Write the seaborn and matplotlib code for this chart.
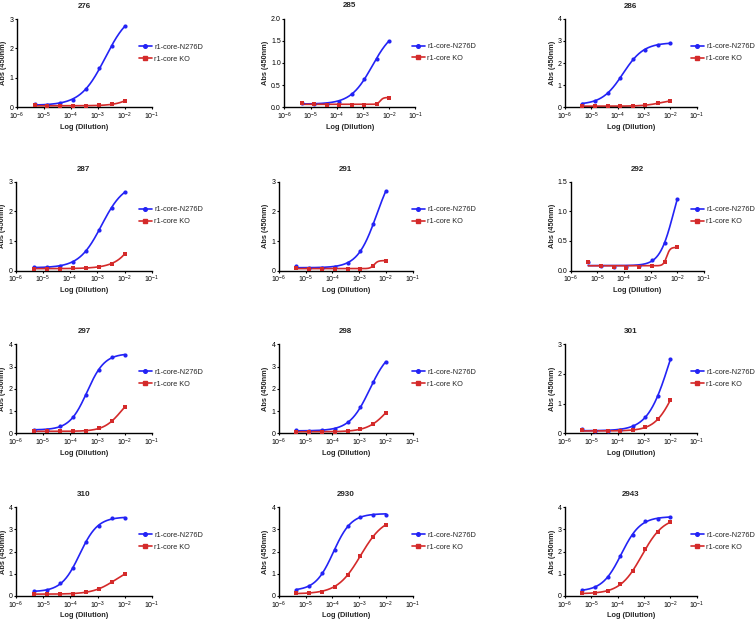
import numpy as np
import pandas as pd
import matplotlib
matplotlib.use("Agg")
import matplotlib.pyplot as plt
import seaborn as sns
from matplotlib.lines import Line2D
from matplotlib.ticker import FixedLocator, FuncFormatter, NullLocator

# ---------------- data ----------------
dilution = [4.57e-6, 1.37e-5, 4.12e-5, 1.23e-4, 3.70e-4, 1.11e-3, 3.33e-3, 1.0e-2]
series_names = ["r1-core-N276D", "r1-core KO"]
panel_titles = ["276", "285", "286", "287", "291", "292",
                "297", "298", "301", "310", "2930", "2943"]
ymax = [3, 2.0, 4, 3, 3, 1.5, 4, 4, 3, 4, 4, 4]
ystep = [1, 0.5, 1, 1, 1, 0.5, 1, 1, 1, 1, 1, 1]

n276d = {
    "276":  [0.11, 0.09, 0.14, 0.26, 0.63, 1.32, 2.07, 2.76],
    "285":  [0.10, 0.08, 0.08, 0.13, 0.30, 0.64, 1.09, 1.50],
    "286":  [0.17, 0.30, 0.63, 1.32, 2.17, 2.60, 2.81, 2.90],
    "287":  [0.12, 0.11, 0.17, 0.29, 0.65, 1.36, 2.10, 2.65],
    "291":  [0.16, 0.10, 0.08, 0.12, 0.27, 0.66, 1.56, 2.69],
    "292":  [0.14, 0.08, 0.06, 0.06, 0.08, 0.17, 0.47, 1.21],
    "297":  [0.16, 0.16, 0.31, 0.73, 1.71, 2.85, 3.43, 3.52],
    "298":  [0.13, 0.12, 0.13, 0.20, 0.49, 1.17, 2.29, 3.22],
    "301":  [0.16, 0.07, 0.07, 0.11, 0.24, 0.55, 1.26, 2.49],
    "310":  [0.21, 0.27, 0.57, 1.24, 2.43, 3.16, 3.51, 3.51],
    "2930": [0.27, 0.46, 1.03, 2.07, 3.16, 3.54, 3.66, 3.66],
    "2943": [0.27, 0.40, 0.85, 1.78, 2.73, 3.37, 3.48, 3.55],
}
ko = {
    "276":  [0.07, 0.05, 0.04, 0.05, 0.05, 0.07, 0.10, 0.22],
    "285":  [0.10, 0.07, 0.05, 0.06, 0.06, 0.06, 0.08, 0.22],
    "286":  [0.05, 0.06, 0.05, 0.05, 0.06, 0.10, 0.18, 0.29],
    "287":  [0.07, 0.06, 0.07, 0.08, 0.10, 0.13, 0.24, 0.56],
    "291":  [0.10, 0.07, 0.06, 0.06, 0.06, 0.07, 0.17, 0.34],
    "292":  [0.15, 0.08, 0.06, 0.05, 0.06, 0.08, 0.15, 0.39],
    "297":  [0.10, 0.09, 0.09, 0.09, 0.10, 0.23, 0.54, 1.18],
    "298":  [0.08, 0.07, 0.07, 0.07, 0.10, 0.19, 0.42, 0.93],
    "301":  [0.10, 0.08, 0.07, 0.08, 0.10, 0.21, 0.47, 1.12],
    "310":  [0.09, 0.09, 0.09, 0.10, 0.17, 0.33, 0.62, 0.99],
    "2930": [0.13, 0.14, 0.20, 0.42, 0.94, 1.81, 2.66, 3.21],
    "2943": [0.12, 0.14, 0.23, 0.52, 1.12, 2.11, 2.87, 3.33],
}

colors = {"r1-core-N276D": "#2323F5", "r1-core KO": "#D42A2A"}
markers = {"r1-core-N276D": "o", "r1-core KO": "s"}

# axes boxes in pixels: left, right, top, bottom
boxes = [
    (16.7, 151.7, 19.0, 107.3), (284.3, 415.3, 18.5, 107.3), (565.0, 696.7, 18.7, 107.3),
    (15.7, 151.7, 181.7, 270.7), (278.7, 412.7, 181.7, 270.7), (570.7, 704.0, 181.7, 270.5),
    (15.7, 152.0, 344.3, 433.3), (278.7, 412.7, 344.3, 433.3), (565.0, 696.7, 344.3, 433.3),
    (16.0, 152.0, 507.0, 596.0), (278.7, 412.7, 507.0, 596.0), (565.0, 696.7, 507.0, 596.0),
]
legend_x = [139.0, 412.0, 691.0]

W, H = 756, 620


def fit_4pl(x, y):
    """Least-squares 4-parameter logistic fit by grid search (log10 x)."""
    X = np.log10(np.asarray(x))
    Y = np.asarray(y, dtype=float)
    cs = np.linspace(-6.5, 0.5, 351)
    hs = np.linspace(0.3, 8.0, 155)
    C, Hh = np.meshgrid(cs, hs, indexing="ij")
    C = C.ravel()[:, None]
    Hh = Hh.ravel()[:, None]
    S = 1.0 / (1.0 + 10 ** ((C - X[None, :]) * Hh))
    A = 1 - S
    a11 = (A * A).sum(1); a12 = (A * S).sum(1); a22 = (S * S).sum(1)
    r1 = (A * Y).sum(1); r2 = (S * Y).sum(1)
    det = a11 * a22 - a12 ** 2
    det = np.where(np.abs(det) < 1e-12, 1e-12, det)
    b = (a22 * r1 - a12 * r2) / det
    t = (a11 * r2 - a12 * r1) / det
    pred = b[:, None] * A + t[:, None] * S
    sse = ((pred - Y[None, :]) ** 2).sum(1)
    k = np.argmin(sse)
    return b[k], t[k], C[k, 0], Hh[k, 0]


def curve(params, xs):
    b, t, c, h = params
    X = np.log10(xs)
    return b + (t - b) / (1 + 10 ** ((c - X) * h))


sns.set_style("ticks")
plt.rcParams["font.family"] = ["Liberation Sans", "DejaVu Sans"]
plt.rcParams["mathtext.fontset"] = "custom"
plt.rcParams["mathtext.rm"] = "Liberation Sans"
plt.rcParams["mathtext.it"] = "Liberation Sans:italic"
plt.rcParams["mathtext.bf"] = "Liberation Sans:bold"

fig = plt.figure(figsize=(W / 100, H / 100), dpi=100)

xdense = np.logspace(np.log10(dilution[0]), np.log10(dilution[-1]), 300)

for i, title in enumerate(panel_titles):
    l, r, t, b = boxes[i]
    ax = fig.add_axes([l / W, 1 - b / H, (r - l) / W, (b - t) / H])
    ax.set_xscale("log")
    ax.set_xlim(1e-6, 1e-1)
    ax.set_ylim(0, ymax[i])

    for name, data in zip(series_names, [n276d[title], ko[title]]):
        p = fit_4pl(dilution, data)
        dfc = pd.DataFrame({"x": xdense, "y": curve(p, xdense)})
        sns.lineplot(data=dfc, x="x", y="y", ax=ax, color=colors[name],
                     linewidth=1.2, legend=False, zorder=2)
        dfp = pd.DataFrame({"x": dilution, "y": data})
        sns.scatterplot(data=dfp, x="x", y="y", ax=ax, color=colors[name],
                        marker=markers[name], s=9, linewidth=0, legend=False,
                        zorder=3, clip_on=False)

    ax.xaxis.set_major_locator(FixedLocator([1e-6, 1e-5, 1e-4, 1e-3, 1e-2, 1e-1]))
    ax.xaxis.set_minor_locator(NullLocator())
    ax.xaxis.set_major_formatter(
        FuncFormatter(lambda v, pos: r"$\mathregular{10^{%d}}$" % int(round(np.log10(v)))))
    ax.set_yticks(np.arange(0, ymax[i] + 1e-9, ystep[i]))
    if ystep[i] < 1:
        ax.yaxis.set_major_formatter(FuncFormatter(lambda v, pos: "%.1f" % v))
    else:
        ax.yaxis.set_major_formatter(FuncFormatter(lambda v, pos: "%d" % v))

    ax.tick_params(axis="both", labelsize=5, length=1.6, width=0.8, pad=0.8,
                   colors="black", direction="out")
    for s in ["left", "bottom"]:
        ax.spines[s].set_linewidth(1.0)
        ax.spines[s].set_color("black")
    sns.despine(ax=ax)

    ax.set_xlabel("Log (Dilution)", fontsize=5.3, fontweight="bold", labelpad=1.2)
    ax.set_ylabel("Abs (450nm)", fontsize=5.3, fontweight="bold", labelpad=1.5)
    ax.set_title(title, fontsize=5.8, fontweight="bold", pad=8)

    handles = [Line2D([0], [0], color=colors[n], marker=markers[n], markersize=2.6,
                      linewidth=1.2) for n in series_names]
    col = i % 3
    ax.legend(handles, series_names, loc="center left",
              bbox_to_anchor=(legend_x[col] / W, 1 - (t + 34.0) / H),
              bbox_transform=fig.transFigure, frameon=False, fontsize=5.3,
              handlelength=1.75, handletextpad=0.35, labelspacing=0.65,
              borderpad=0, borderaxespad=0, numpoints=1)

fig.savefig("out.png", dpi=100)
